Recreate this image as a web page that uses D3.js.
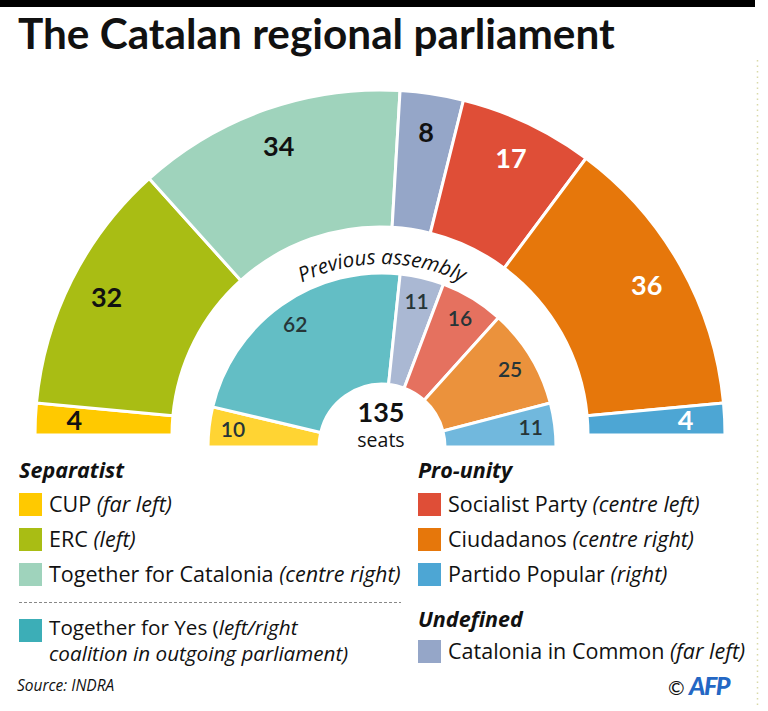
<!DOCTYPE html>
<html>
<head>
<meta charset="utf-8">
<script src="https://cdn.jsdelivr.net/npm/d3@7"></script>
<style>
  html, body { margin: 0; padding: 0; background: #fff; }
  svg { display: block; font-family: Lato, "Open Sans", sans-serif; }
  .lg { font-family: "Open Sans", Lato, sans-serif; }
</style>
</head>
<body>
<svg id="chart" width="768" height="711"></svg>
<script>
// ---------------- data ----------------
const outerParties = ["CUP", "ERC", "JxCat", "CatComu", "PSC", "Cs", "PP"];
const outerSeats   = [4, 32, 34, 8, 17, 36, 4];

const innerParties = ["CUP", "JxSi", "CSQEP", "PSC", "Cs", "PP"];
const innerSeats   = [10, 62, 11, 16, 25, 11];

const totalSeats = 135;

const partyColors = {
  CUP: "#FFC900", ERC: "#A9BD14", JxCat: "#9FD3BC", CatComu: "#95A6C8",
  CSQEP: "#95A6C8", PSC: "#DF4E37", Cs: "#E6770B", PP: "#4DA6D4", JxSi: "#3CAEB7"
};
const darkLabelParties = ["CUP", "ERC", "JxCat", "CatComu"];

const legendSeparatist = [
  { key: "CUP",   name: "CUP ",                  note: "(far left)" },
  { key: "ERC",   name: "ERC ",                  note: "(left)" },
  { key: "JxCat", name: "Together for Catalonia ", note: "(centre right)" }
];
const legendProUnity = [
  { key: "PSC", name: "Socialist Party ", note: "(centre left)" },
  { key: "Cs",  name: "Ciudadanos ",      note: "(centre right)" },
  { key: "PP",  name: "Partido Popular ", note: "(right)" }
];
const legendUndefined = [
  { key: "CatComu", name: "Catalonia in Common ", note: "(far left)" }
];

// ---------------- drawing ----------------
const svg = d3.select("#chart");

// top bar + title
svg.append("rect").attr("x", 0).attr("y", 0).attr("width", 755).attr("height", 7).attr("fill", "#000");
const title = svg.append("text").attr("x", 18).attr("y", 49)
  .attr("font-size", 38).attr("font-weight", 700).attr("fill", "#111")
  .text("The Catalan regional parliament");
const tw = title.node().getComputedTextLength();
title.attr("font-size", 38 * 597 / tw);

// right dotted border
svg.append("line").attr("x1", 757.5).attr("x2", 757.5).attr("y1", 60).attr("y2", 705)
  .attr("stroke", "#d9d9a8").attr("stroke-width", 1.5).attr("stroke-dasharray", "1.5,4");

const pie = d3.pie().sort(null).value(d => d.v)
  .startAngle(-Math.PI / 2).endAngle(Math.PI / 2);

// outer ring
const outerG = svg.append("g").attr("transform", "translate(380,435)");
const outerArc = d3.arc().innerRadius(208).outerRadius(345);
const outerLabelArc = d3.arc().innerRadius(306).outerRadius(306);
const outerData = pie(outerParties.map((p, i) => ({ p, v: outerSeats[i] })));
outerG.selectAll("path").data(outerData).join("path")
  .attr("d", outerArc)
  .attr("fill", d => partyColors[d.data.p])
  .attr("stroke", "#fff").attr("stroke-width", 3).attr("stroke-linejoin", "round");
outerG.selectAll("text").data(outerData).join("text")
  .attr("transform", d => { const c = outerLabelArc.centroid(d); return `translate(${c[0]},${c[1]})`; })
  .attr("text-anchor", "middle").attr("dy", "0.36em")
  .attr("font-size", 27).attr("font-weight", 700)
  .attr("fill", d => darkLabelParties.includes(d.data.p) ? "#111" : "#fff")
  .text(d => d.data.v);

// inner ring
const innerG = svg.append("g").attr("transform", "translate(382,447)");
const innerArc = d3.arc().innerRadius(63).outerRadius(174);
const innerLabelArc = d3.arc().innerRadius(150).outerRadius(150);
const innerData = pie(innerParties.map((p, i) => ({ p, v: innerSeats[i] })));
innerG.selectAll("path").data(innerData).join("path")
  .attr("d", innerArc)
  .attr("fill", d => partyColors[d.data.p]).attr("fill-opacity", 0.8)
  .attr("stroke", "#fff").attr("stroke-width", 3).attr("stroke-linejoin", "round");
innerG.selectAll("text.lbl").data(innerData).join("text").attr("class", "lbl")
  .attr("transform", d => { const c = innerLabelArc.centroid(d); return `translate(${c[0]},${c[1]})`; })
  .attr("text-anchor", "middle").attr("dy", "0.36em")
  .attr("font-size", 21).attr("font-weight", 600).attr("fill", "#263538")
  .text(d => d.data.v);

// "Previous assembly" curved label
const rr = 183;
innerG.append("path").attr("id", "prevArc")
  .attr("d", `M${-rr},0 A${rr},${rr} 0 0,1 ${rr},0`).attr("fill", "none");
innerG.append("text").attr("class", "lg").attr("font-size", 20.5).attr("font-style", "italic").attr("fill", "#111")
  .append("textPath").attr("href", "#prevArc").attr("startOffset", "50%").attr("text-anchor", "middle")
  .text("Previous assembly");

// centre total
svg.append("text").attr("x", 381).attr("y", 422).attr("text-anchor", "middle")
  .attr("font-size", 27).attr("font-weight", 700).attr("fill", "#111").text(totalSeats);
svg.append("text").attr("class", "lg").attr("x", 381).attr("y", 447).attr("text-anchor", "middle")
  .attr("font-size", 19.5).attr("fill", "#111").text("seats");

// ---------------- legend ----------------
// font size fitted so that the longest separatist line spans like the reference
const probe = svg.append("text").attr("class", "lg").attr("font-size", 20).attr("x", 0).attr("y", -50);
probe.append("tspan").text("Together for Catalonia ");
probe.append("tspan").attr("font-style", "italic").text("(centre right)");
const lgSize = 20 * 352 / probe.node().getComputedTextLength();
probe.remove();

function header(x, y, t) {
  svg.append("text").attr("class", "lg").attr("x", x).attr("y", y).attr("font-size", lgSize)
    .attr("font-weight", 700).attr("font-style", "italic").attr("fill", "#111").text(t);
}
function item(x, y, d) {
  svg.append("rect").attr("x", x).attr("y", y).attr("width", 23).attr("height", 23)
    .attr("fill", partyColors[d.key]);
  const t = svg.append("text").attr("class", "lg").attr("x", x + 30).attr("y", y + 18.5)
    .attr("font-size", lgSize).attr("fill", "#111");
  t.append("tspan").text(d.name);
  t.append("tspan").attr("font-style", "italic").text(d.note);
}

header(19, 478, "Separatist");
legendSeparatist.forEach((d, i) => item(19, 493 + i * 35, d));
svg.append("line").attr("x1", 19).attr("x2", 401).attr("y1", 602.5).attr("y2", 602.5)
  .attr("stroke", "#888").attr("stroke-width", 1).attr("stroke-dasharray", "3,2");
svg.append("rect").attr("x", 19).attr("y", 619).attr("width", 23).attr("height", 23).attr("fill", partyColors.JxSi);
const jxSize = lgSize * 0.96;
const jx = svg.append("text").attr("class", "lg").attr("x", 49).attr("y", 634.5).attr("font-size", jxSize).attr("fill", "#111");
jx.append("tspan").text("Together for Yes (");
jx.append("tspan").attr("font-style", "italic").text("left/right");
svg.append("text").attr("class", "lg").attr("x", 49).attr("y", 661).attr("font-size", jxSize).attr("fill", "#111")
  .attr("font-style", "italic").text("coalition in outgoing parliament)");

header(418, 478, "Pro-unity");
legendProUnity.forEach((d, i) => item(418, 493 + i * 35, d));
header(418, 627, "Undefined");
legendUndefined.forEach((d, i) => item(418, 640 + i * 35, d));

svg.append("text").attr("class", "lg").attr("x", 17).attr("y", 691).attr("font-size", 15.5)
  .attr("font-style", "italic").attr("fill", "#111").text("Source: INDRA");

// credit
svg.append("text").attr("x", 668).attr("y", 695).attr("font-size", 20).attr("fill", "#111").text("©");
svg.append("text").attr("x", 689).attr("y", 695).attr("font-size", 25).attr("font-weight", 900)
  .attr("font-style", "italic").attr("fill", "#2467c4").attr("letter-spacing", -1.5).text("AFP");
</script>
</body>
</html>
